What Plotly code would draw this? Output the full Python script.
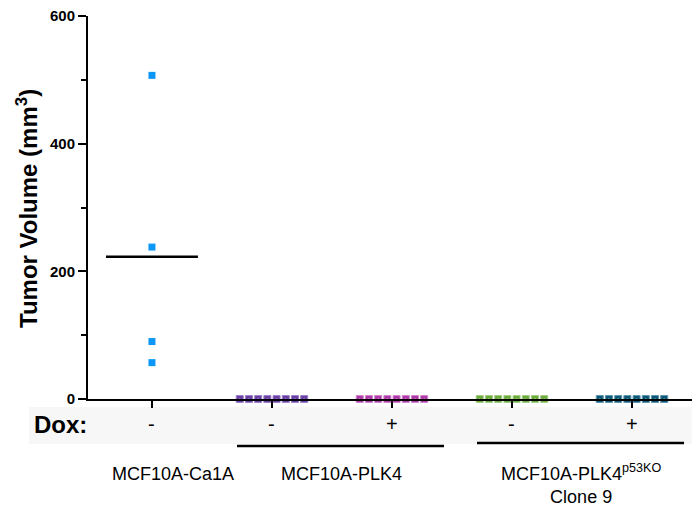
import plotly.graph_objects as go

# ---- data ----
categories = ["MCF10A-Ca1A", "MCF10A-PLK4 -", "MCF10A-PLK4 +", "PLK4p53KO -", "PLK4p53KO +"]
dox_labels = ["-", "-", "+", "-", "+"]
vol_ca1a = [507, 238, 90, 57]
vol_plk4_minus = [0, 0, 0, 0, 0, 0, 0, 0]
vol_plk4_plus = [0, 0, 0, 0, 0, 0, 0, 0]
vol_p53ko_minus = [0, 0, 0, 0, 0, 0, 0, 0]
vol_p53ko_plus = [0, 0, 0, 0, 0, 0, 0, 0]
group_labels = ["MCF10A-Ca1A", "MCF10A-PLK4", "MCF10A-PLK4<sup>p53KO</sup><br>Clone 9"]
y_ticks = [0, 200, 400, 600]

series = [vol_ca1a, vol_plk4_minus, vol_plk4_plus, vol_p53ko_minus, vol_p53ko_plus]
colors = ["#0A97F7", "#6A3FA6", "#AE38A8", "#6BAB3A", "#0E5877"]
light = ["#0A97F7", "#9C80C8", "#CF86CB", "#A4CC86", "#5E95AE"]
jitter = [False, True, True, True, True]

W, H = 692, 507
L, R, T, B = 88, 0, 16, 108
XMIN, XMAX = -0.533, 4.5
plot_w = W - L - R
plot_h = H - T - B


def px_x(px):
    return (px - L) / plot_w


def px_y(py):
    return (H - B - py) / plot_h


fig = go.Figure()

for i, vals in enumerate(series):
    n = len(vals)
    if jitter[i]:
        xs = [i + (k - (n - 1) / 2) * 0.0767 for k in range(n)]
        sym = "square-dot"
        line = dict(color=light[i], width=1)
        size = 7
    else:
        xs = [i] * n
        sym = "square"
        line = dict(width=0)
        size = 7
    fig.add_trace(go.Scatter(
        x=xs, y=vals, mode="markers", cliponaxis=False,
        marker=dict(symbol=sym, size=size, color=colors[i], line=line),
        showlegend=False, hoverinfo="skip"))

# mean line for Ca1A
mean_ca1a = sum(vol_ca1a) / len(vol_ca1a)
fig.add_trace(go.Scatter(
    x=[-0.383, 0.383], y=[mean_ca1a, mean_ca1a], mode="lines",
    line=dict(color="black", width=2.5), showlegend=False, hoverinfo="skip"))

font_main = "Arial, Liberation Sans, Helvetica, sans-serif"

fig.update_layout(
    width=W, height=H,
    margin=dict(l=L, r=R, t=T, b=B, autoexpand=False),
    paper_bgcolor="white", plot_bgcolor="white",
    font=dict(family=font_main, color="black"),
    xaxis=dict(
        range=[XMIN, XMAX], showgrid=False, zeroline=False,
        showline=True, linecolor="black", linewidth=2,
        tickmode="array", tickvals=list(range(len(categories))),
        ticks="outside", ticklen=7, tickwidth=2, tickcolor="black",
        showticklabels=False),
    yaxis=dict(
        range=[0, 600], showgrid=False, zeroline=False,
        showline=True, linecolor="black", linewidth=2,
        tickmode="array", tickvals=y_ticks,
        ticks="outside", ticklen=8, tickwidth=2, tickcolor="black",
        tickfont=dict(size=15, family=font_main, weight="bold"),
        minor=dict(tickvals=[100, 300, 500], ticks="outside", ticklen=5,
                   tickwidth=2, tickcolor="black", showgrid=False)),
)

# gray band behind Dox row
fig.add_shape(type="rect", xref="paper", yref="paper",
              x0=px_x(29), x1=px_x(W), y0=px_y(444), y1=px_y(407),
              fillcolor="#F7F7F7", line=dict(width=0), layer="below")

# group underlines
fig.add_shape(type="line", xref="paper", yref="paper",
              x0=px_x(237), x1=px_x(444), y0=px_y(446), y1=px_y(446),
              line=dict(color="black", width=2.5))
fig.add_shape(type="line", xref="paper", yref="paper",
              x0=px_x(477), x1=px_x(684), y0=px_y(443), y1=px_y(443),
              line=dict(color="black", width=2.5))

# Dox label
fig.add_annotation(text="<b>Dox:</b>", xref="paper", yref="paper",
                   x=px_x(32), y=px_y(424), xanchor="left", yanchor="middle",
                   showarrow=False, font=dict(size=24, family=font_main))
for i, s in enumerate(dox_labels):
    fig.add_annotation(text=s, xref="x", yref="paper", x=i, y=px_y(424),
                       xanchor="center", yanchor="middle", showarrow=False,
                       font=dict(size=20, family=font_main))

# group labels
label_px = [(173, 474), (341, 474), (581, 484)]
for (lx, ly), txt in zip(label_px, group_labels):
    fig.add_annotation(text=txt, xref="paper", yref="paper",
                       x=px_x(lx), y=px_y(ly), xanchor="center", yanchor="middle",
                       showarrow=False, align="center",
                       font=dict(size=18, family=font_main))

# y-axis title
fig.add_annotation(text="<b>Tumor Volume (mm<sup>3</sup>)</b>", xref="paper", yref="paper",
                   x=px_x(27), y=px_y(209), textangle=-90, xanchor="center",
                   yanchor="middle", showarrow=False,
                   font=dict(size=24, family=font_main))

fig.write_html("out.html", config={"displayModeBar": False},
               post_script="document.body.style.margin='0px';document.body.style.padding='0px';")
